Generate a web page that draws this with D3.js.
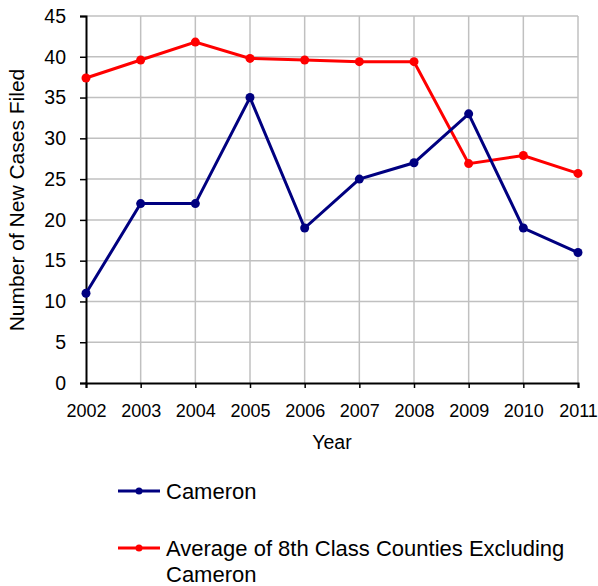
<!DOCTYPE html>
<html>
<head>
<meta charset="utf-8">
<script src="https://cdn.jsdelivr.net/npm/d3@7"></script>
<style>
  body { margin: 0; background: #fff; }
  text { font-family: "Liberation Sans", Arial, sans-serif; fill: #000; }
</style>
</head>
<body>
<svg id="chart" width="598" height="586"></svg>
<script>
var years = [2002, 2003, 2004, 2005, 2006, 2007, 2008, 2009, 2010, 2011];
var cameron = [11, 22, 22, 35, 19, 25, 27, 33, 19, 16];
var average = [37.4, 39.6, 41.8, 39.8, 39.6, 39.4, 39.4, 26.9, 27.9, 25.7];
var yTicks = [0, 5, 10, 15, 20, 25, 30, 35, 40, 45];

var svg = d3.select('#chart'),
  plotLeft = 86, plotRight = 578, plotTop = 16, plotBottom = 383;

var x = d3.scaleLinear().domain([2002, 2011]).range([plotLeft, plotRight]);
var y = d3.scaleLinear().domain([0, 45]).range([plotBottom, plotTop]);

// grid
svg.append('g').selectAll('line')
  .data(yTicks.slice(1))
  .enter().append('line')
  .attr('x1', plotLeft).attr('x2', plotRight)
  .attr('y1', function(d) { return y(d); })
  .attr('y2', function(d) { return y(d); })
  .attr('stroke', '#c0c0c0').attr('stroke-width', 1.5);

svg.append('g').selectAll('line')
  .data(years.slice(1))
  .enter().append('line')
  .attr('x1', function(d) { return x(d); })
  .attr('x2', function(d) { return x(d); })
  .attr('y1', plotTop).attr('y2', plotBottom)
  .attr('stroke', '#c0c0c0').attr('stroke-width', 1.5);

// axes
var yAxis = svg.append('g')
  .attr('transform', 'translate(' + plotLeft + ',0)')
  .call(d3.axisLeft(y).tickValues(yTicks).tickSize(6).tickPadding(14));
var xAxis = svg.append('g')
  .attr('transform', 'translate(0,' + plotBottom + ')')
  .call(d3.axisBottom(x).tickValues(years).tickFormat(d3.format('d')).tickSize(5).tickPadding(16));

[yAxis, xAxis].forEach(function(a) {
  a.select('.domain').attr('stroke', '#000').attr('stroke-width', 2);
  a.selectAll('.tick line').attr('stroke', '#000').attr('stroke-width', 1.5);
  a.selectAll('text').attr('fill', '#000')
    .style('font-family', '"Liberation Sans", Arial, sans-serif');
});
yAxis.selectAll('text').style('font-size', '19.5px');
xAxis.selectAll('text').style('font-size', '18px');

// axis titles
svg.append('text')
  .attr('x', 332).attr('y', 449)
  .attr('text-anchor', 'middle')
  .style('font-size', '19.5px')
  .text('Year');

svg.append('text')
  .attr('transform', 'translate(23.5,200) rotate(-90)')
  .attr('text-anchor', 'middle')
  .style('font-size', '21px')
  .text('Number of New Cases Filed');

// series
var series = [
  { values: average, color: '#ff0000' },
  { values: cameron, color: '#000080' }
];

var line = d3.line()
  .x(function(d, i) { return x(years[i]); })
  .y(function(d) { return y(d); });

series.forEach(function(s) {
  svg.append('path')
    .datum(s.values)
    .attr('d', line)
    .attr('fill', 'none')
    .attr('stroke', s.color)
    .attr('stroke-width', 3);

  svg.append('g').selectAll('circle')
    .data(s.values)
    .enter().append('circle')
    .attr('cx', function(d, i) { return x(years[i]); })
    .attr('cy', function(d) { return y(d); })
    .attr('r', 4.5)
    .attr('fill', s.color);
});

// legend
var legend = [
  { label: ['Cameron'], color: '#000080', y: 491 },
  { label: ['Average of 8th Class Counties Excluding', 'Cameron'], color: '#ff0000', y: 548 }
];

legend.forEach(function(l) {
  var g = svg.append('g');
  g.append('line')
    .attr('x1', 118).attr('x2', 160)
    .attr('y1', l.y).attr('y2', l.y)
    .attr('stroke', l.color).attr('stroke-width', 3);
  g.append('circle')
    .attr('cx', 139).attr('cy', l.y).attr('r', 3.5)
    .attr('fill', l.color);
  l.label.forEach(function(t, i) {
    g.append('text')
      .attr('x', 166).attr('y', l.y + 8 + i * 26)
      .style('font-size', '22px')
      .text(t);
  });
});
</script>
</body>
</html>
